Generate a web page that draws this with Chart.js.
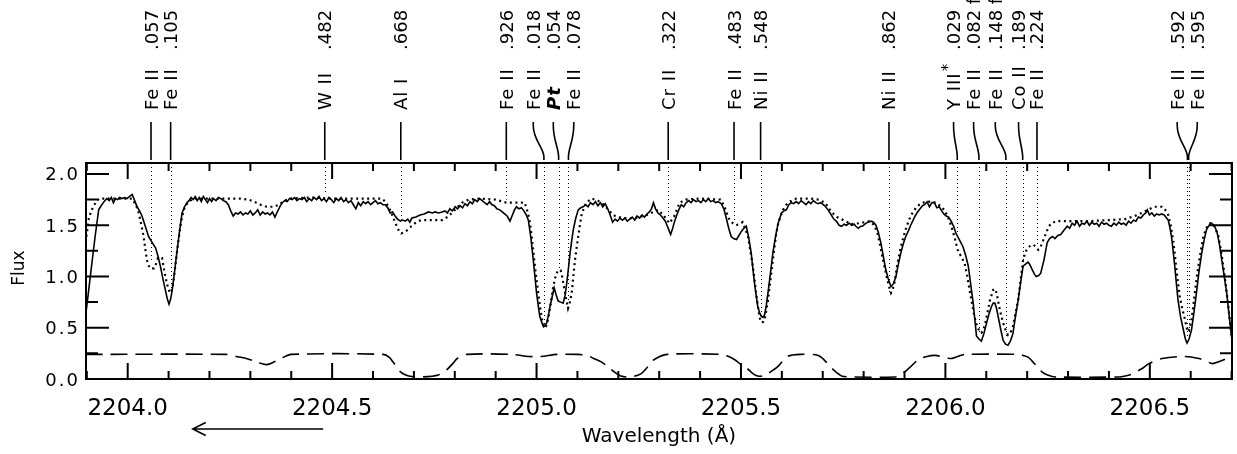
<!DOCTYPE html>
<html>
<head>
<meta charset="utf-8">
<script src="https://cdn.jsdelivr.net/npm/chart.js@4.4.1/dist/chart.umd.min.js"></script>
<style>
  html, body { margin: 0; padding: 0; background: #fff; }
  #wrap { width: 1237px; height: 454px; }
</style>
</head>
<body>
<div id="wrap"><canvas id="chart" width="1237" height="454"></canvas></div>
<script>
// Observed spectrum (solid)
const obsWave = [2203.899,2203.910,2203.920,2203.929,2203.935,2203.942,2203.949,2203.955,2203.960,2203.965,2203.970,2203.975,2203.980,2203.986,2203.992,2203.998,2204.004,2204.011,2204.017,2204.023,2204.029,2204.035,2204.043,2204.051,2204.060,2204.068,2204.074,2204.080,2204.086,2204.092,2204.097,2204.101,2204.105,2204.109,2204.115,2204.121,2204.127,2204.133,2204.139,2204.145,2204.150,2204.155,2204.160,2204.165,2204.170,2204.175,2204.180,2204.185,2204.190,2204.195,2204.200,2204.205,2204.210,2204.216,2204.222,2204.228,2204.234,2204.240,2204.246,2204.252,2204.258,2204.264,2204.270,2204.276,2204.282,2204.288,2204.294,2204.300,2204.306,2204.312,2204.318,2204.324,2204.330,2204.336,2204.342,2204.348,2204.354,2204.360,2204.366,2204.372,2204.378,2204.384,2204.390,2204.396,2204.402,2204.408,2204.414,2204.420,2204.426,2204.432,2204.438,2204.444,2204.450,2204.456,2204.462,2204.468,2204.474,2204.480,2204.486,2204.492,2204.498,2204.504,2204.510,2204.516,2204.522,2204.528,2204.534,2204.540,2204.546,2204.552,2204.558,2204.564,2204.570,2204.576,2204.582,2204.588,2204.594,2204.600,2204.606,2204.612,2204.618,2204.624,2204.630,2204.636,2204.642,2204.648,2204.654,2204.660,2204.667,2204.673,2204.679,2204.685,2204.690,2204.695,2204.705,2204.715,2204.725,2204.736,2204.745,2204.752,2204.760,2204.769,2204.776,2204.782,2204.788,2204.794,2204.801,2204.807,2204.813,2204.819,2204.825,2204.831,2204.837,2204.843,2204.849,2204.855,2204.861,2204.867,2204.873,2204.879,2204.885,2204.891,2204.897,2204.903,2204.910,2204.916,2204.922,2204.928,2204.935,2204.940,2204.946,2204.951,2204.957,2204.963,2204.969,2204.975,2204.980,2204.986,2204.992,2204.996,2205.000,2205.004,2205.008,2205.013,2205.017,2205.021,2205.025,2205.029,2205.033,2205.038,2205.043,2205.048,2205.053,2205.059,2205.065,2205.070,2205.074,2205.078,2205.082,2205.086,2205.090,2205.096,2205.102,2205.108,2205.114,2205.120,2205.126,2205.132,2205.138,2205.144,2205.150,2205.156,2205.162,2205.168,2205.174,2205.180,2205.186,2205.192,2205.198,2205.204,2205.210,2205.216,2205.222,2205.228,2205.234,2205.240,2205.246,2205.252,2205.258,2205.264,2205.270,2205.276,2205.281,2205.286,2205.291,2205.297,2205.303,2205.309,2205.315,2205.320,2205.325,2205.328,2205.333,2205.337,2205.343,2205.349,2205.354,2205.360,2205.366,2205.372,2205.378,2205.384,2205.390,2205.396,2205.402,2205.408,2205.414,2205.420,2205.426,2205.432,2205.438,2205.444,2205.452,2205.458,2205.464,2205.470,2205.476,2205.482,2205.489,2205.495,2205.501,2205.507,2205.513,2205.519,2205.525,2205.529,2205.533,2205.537,2205.541,2205.546,2205.550,2205.554,2205.558,2205.562,2205.566,2205.572,2205.578,2205.585,2205.591,2205.599,2205.605,2205.611,2205.617,2205.623,2205.629,2205.635,2205.641,2205.647,2205.653,2205.659,2205.665,2205.671,2205.677,2205.683,2205.689,2205.695,2205.705,2205.713,2205.721,2205.727,2205.733,2205.740,2205.746,2205.752,2205.758,2205.765,2205.771,2205.777,2205.781,2205.787,2205.793,2205.797,2205.803,2205.810,2205.818,2205.824,2205.830,2205.836,2205.842,2205.848,2205.854,2205.860,2205.867,2205.873,2205.879,2205.885,2205.891,2205.897,2205.903,2205.910,2205.915,2205.920,2205.926,2205.932,2205.938,2205.944,2205.949,2205.955,2205.961,2205.967,2205.973,2205.979,2205.985,2205.991,2205.996,2206.002,2206.008,2206.014,2206.020,2206.026,2206.034,2206.043,2206.050,2206.056,2206.062,2206.068,2206.072,2206.076,2206.082,2206.088,2206.094,2206.101,2206.107,2206.113,2206.117,2206.121,2206.125,2206.129,2206.135,2206.141,2206.147,2206.153,2206.159,2206.165,2206.171,2206.178,2206.184,2206.190,2206.196,2206.202,2206.206,2206.212,2206.218,2206.222,2206.228,2206.233,2206.241,2206.249,2206.255,2206.262,2206.268,2206.275,2206.282,2206.290,2206.298,2206.304,2206.310,2206.316,2206.322,2206.328,2206.334,2206.340,2206.346,2206.352,2206.358,2206.364,2206.370,2206.376,2206.382,2206.388,2206.394,2206.400,2206.406,2206.412,2206.418,2206.424,2206.430,2206.436,2206.442,2206.448,2206.454,2206.460,2206.466,2206.472,2206.478,2206.484,2206.490,2206.494,2206.499,2206.505,2206.511,2206.517,2206.523,2206.529,2206.535,2206.541,2206.545,2206.549,2206.553,2206.557,2206.561,2206.565,2206.569,2206.575,2206.582,2206.587,2206.591,2206.596,2206.602,2206.608,2206.614,2206.620,2206.627,2206.633,2206.639,2206.645,2206.651,2206.657,2206.664,2206.670,2206.676,2206.682,2206.688,2206.694,2206.700,2206.706]
const obsFlux = [0.68,1.05,1.38,1.65,1.69,1.73,1.76,1.74,1.77,1.72,1.76,1.75,1.77,1.76,1.77,1.76,1.78,1.80,1.74,1.68,1.64,1.59,1.49,1.39,1.33,1.28,1.20,1.10,0.98,0.87,0.78,0.73,0.78,0.87,1.06,1.26,1.45,1.62,1.68,1.72,1.74,1.77,1.75,1.78,1.74,1.77,1.73,1.78,1.75,1.72,1.76,1.73,1.76,1.74,1.77,1.76,1.74,1.73,1.70,1.64,1.59,1.62,1.61,1.63,1.60,1.62,1.61,1.64,1.60,1.62,1.65,1.60,1.63,1.61,1.62,1.60,1.63,1.58,1.63,1.68,1.72,1.74,1.73,1.76,1.75,1.77,1.74,1.76,1.75,1.77,1.73,1.76,1.74,1.77,1.75,1.78,1.74,1.76,1.73,1.77,1.75,1.72,1.76,1.74,1.77,1.73,1.75,1.72,1.74,1.70,1.66,1.72,1.69,1.73,1.71,1.73,1.70,1.72,1.74,1.71,1.72,1.70,1.70,1.67,1.62,1.63,1.59,1.56,1.54,1.55,1.54,1.56,1.53,1.57,1.58,1.60,1.61,1.63,1.62,1.63,1.62,1.63,1.64,1.62,1.66,1.64,1.68,1.66,1.69,1.67,1.71,1.69,1.73,1.71,1.75,1.73,1.76,1.74,1.72,1.70,1.73,1.70,1.69,1.66,1.65,1.63,1.61,1.59,1.54,1.59,1.65,1.68,1.66,1.67,1.64,1.60,1.55,1.38,1.16,1.00,0.84,0.72,0.61,0.55,0.51,0.52,0.55,0.62,0.71,0.80,0.89,0.82,0.76,0.75,0.74,0.82,0.94,1.08,1.23,1.35,1.46,1.57,1.65,1.67,1.68,1.70,1.68,1.72,1.70,1.73,1.69,1.72,1.68,1.71,1.66,1.60,1.53,1.56,1.54,1.57,1.55,1.57,1.54,1.56,1.58,1.55,1.59,1.57,1.60,1.58,1.61,1.63,1.66,1.72,1.66,1.62,1.60,1.57,1.54,1.49,1.44,1.41,1.47,1.53,1.60,1.66,1.70,1.68,1.72,1.74,1.72,1.75,1.73,1.74,1.72,1.75,1.73,1.76,1.73,1.74,1.72,1.73,1.71,1.66,1.57,1.47,1.39,1.37,1.36,1.40,1.44,1.47,1.49,1.38,1.23,1.08,0.94,0.82,0.71,0.64,0.61,0.60,0.63,0.72,0.84,1.03,1.23,1.40,1.52,1.62,1.64,1.65,1.70,1.72,1.71,1.73,1.71,1.74,1.72,1.70,1.73,1.71,1.74,1.72,1.71,1.72,1.69,1.65,1.60,1.56,1.54,1.50,1.49,1.51,1.50,1.52,1.50,1.51,1.49,1.47,1.49,1.49,1.51,1.53,1.54,1.53,1.50,1.43,1.33,1.20,1.07,0.98,0.90,0.93,1.00,1.12,1.23,1.32,1.39,1.45,1.50,1.54,1.59,1.63,1.66,1.69,1.70,1.73,1.68,1.72,1.72,1.67,1.68,1.64,1.61,1.59,1.58,1.54,1.49,1.42,1.36,1.29,1.20,1.10,0.92,0.74,0.58,0.42,0.39,0.37,0.44,0.55,0.64,0.71,0.74,0.74,0.69,0.61,0.49,0.38,0.34,0.33,0.37,0.44,0.60,0.77,0.94,1.10,1.12,1.14,1.12,1.07,1.02,1.00,1.01,1.03,1.16,1.33,1.37,1.39,1.37,1.40,1.41,1.45,1.49,1.47,1.52,1.50,1.54,1.49,1.52,1.51,1.54,1.50,1.53,1.51,1.52,1.49,1.53,1.51,1.52,1.50,1.49,1.52,1.50,1.53,1.51,1.52,1.50,1.54,1.52,1.55,1.54,1.58,1.57,1.60,1.62,1.65,1.60,1.62,1.59,1.61,1.60,1.61,1.60,1.57,1.55,1.48,1.39,1.25,1.10,0.93,0.77,0.61,0.48,0.39,0.35,0.39,0.48,0.65,0.84,1.04,1.23,1.36,1.46,1.50,1.52,1.50,1.44,1.32,1.16,1.00,0.84,0.62,0.41,0.30]

// Synthetic spectrum (dotted)
const modelWave = [2203.899,2203.905,2203.912,2203.920,2203.930,2203.950,2203.970,2203.990,2204.010,2204.020,2204.027,2204.033,2204.039,2204.043,2204.047,2204.051,2204.054,2204.064,2204.069,2204.074,2204.084,2204.088,2204.092,2204.098,2204.103,2204.107,2204.111,2204.115,2204.119,2204.124,2204.129,2204.133,2204.137,2204.143,2204.150,2204.160,2204.200,2204.240,2204.276,2204.295,2204.309,2204.325,2204.340,2204.358,2204.370,2204.380,2204.395,2204.450,2204.500,2204.560,2204.622,2204.630,2204.638,2204.645,2204.652,2204.658,2204.664,2204.669,2204.676,2204.683,2204.691,2204.699,2204.710,2204.719,2204.740,2204.769,2204.782,2204.793,2204.805,2204.818,2204.834,2204.860,2204.900,2204.926,2204.950,2204.971,2204.979,2204.984,2204.988,2204.992,2204.996,2205.000,2205.004,2205.008,2205.012,2205.016,2205.020,2205.024,2205.028,2205.032,2205.036,2205.040,2205.045,2205.049,2205.053,2205.059,2205.063,2205.067,2205.072,2205.077,2205.081,2205.086,2205.090,2205.094,2205.098,2205.102,2205.106,2205.110,2205.116,2205.122,2205.135,2205.150,2205.165,2205.176,2205.185,2205.192,2205.210,2205.240,2205.270,2205.286,2205.297,2205.310,2205.325,2205.337,2205.350,2205.365,2205.400,2205.450,2205.460,2205.466,2205.472,2205.480,2205.488,2205.496,2205.504,2205.510,2205.517,2205.523,2205.529,2205.533,2205.537,2205.541,2205.545,2205.548,2205.551,2205.555,2205.558,2205.562,2205.566,2205.570,2205.574,2205.578,2205.582,2205.586,2205.591,2205.597,2205.603,2205.611,2205.619,2205.635,2205.670,2205.690,2205.705,2205.713,2205.721,2205.735,2205.750,2205.770,2205.790,2205.815,2205.826,2205.834,2205.840,2205.846,2205.852,2205.858,2205.863,2205.867,2205.871,2205.875,2205.879,2205.883,2205.887,2205.891,2205.897,2205.903,2205.909,2205.915,2205.921,2205.928,2205.936,2205.944,2205.960,2205.977,2205.987,2205.997,2206.004,2206.010,2206.016,2206.022,2206.030,2206.039,2206.047,2206.053,2206.059,2206.065,2206.071,2206.077,2206.084,2206.088,2206.092,2206.097,2206.101,2206.105,2206.109,2206.113,2206.117,2206.121,2206.125,2206.129,2206.133,2206.137,2206.141,2206.147,2206.153,2206.159,2206.165,2206.171,2206.178,2206.184,2206.190,2206.196,2206.202,2206.208,2206.215,2206.221,2206.227,2206.233,2206.239,2206.245,2206.251,2206.257,2206.270,2206.300,2206.350,2206.400,2206.440,2206.470,2206.490,2206.511,2206.530,2206.540,2206.545,2206.551,2206.557,2206.561,2206.565,2206.569,2206.573,2206.579,2206.586,2206.590,2206.594,2206.598,2206.602,2206.606,2206.610,2206.615,2206.621,2206.626,2206.631,2206.637,2206.643,2206.649,2206.655,2206.661,2206.668,2206.674,2206.680,2206.686,2206.692,2206.700,2206.706]
const modelFlux = [1.39,1.57,1.65,1.71,1.76,1.76,1.76,1.76,1.76,1.70,1.62,1.51,1.39,1.27,1.16,1.11,1.08,1.08,1.12,1.18,1.18,1.09,1.00,0.90,0.84,0.86,0.93,1.05,1.19,1.35,1.49,1.58,1.65,1.70,1.73,1.76,1.76,1.76,1.76,1.75,1.73,1.70,1.68,1.68,1.70,1.73,1.76,1.77,1.76,1.76,1.76,1.73,1.68,1.62,1.55,1.49,1.44,1.42,1.43,1.45,1.48,1.51,1.54,1.55,1.55,1.55,1.58,1.62,1.67,1.72,1.75,1.76,1.75,1.72,1.72,1.72,1.62,1.52,1.39,1.25,1.10,0.97,0.84,0.72,0.61,0.54,0.50,0.52,0.58,0.67,0.77,0.88,0.98,1.03,1.06,1.06,0.99,0.90,0.79,0.69,0.74,0.84,1.00,1.16,1.28,1.39,1.50,1.60,1.67,1.72,1.76,1.74,1.70,1.65,1.61,1.59,1.57,1.57,1.60,1.63,1.65,1.60,1.52,1.59,1.72,1.75,1.76,1.75,1.68,1.61,1.55,1.52,1.50,1.51,1.53,1.47,1.39,1.25,1.10,0.97,0.84,0.72,0.61,0.57,0.55,0.56,0.58,0.67,0.77,0.90,1.03,1.16,1.29,1.41,1.52,1.59,1.65,1.70,1.73,1.76,1.76,1.75,1.72,1.68,1.63,1.58,1.55,1.51,1.52,1.54,1.50,1.42,1.31,1.19,1.08,0.97,0.89,0.84,0.87,0.93,1.03,1.13,1.21,1.29,1.38,1.46,1.53,1.59,1.63,1.67,1.70,1.72,1.73,1.72,1.69,1.65,1.60,1.54,1.47,1.39,1.26,1.19,1.13,1.01,0.87,0.74,0.61,0.52,0.46,0.45,0.47,0.53,0.61,0.69,0.77,0.82,0.87,0.88,0.84,0.76,0.68,0.61,0.55,0.48,0.43,0.45,0.51,0.63,0.77,0.97,1.16,1.24,1.28,1.30,1.31,1.29,1.26,1.29,1.35,1.41,1.47,1.51,1.54,1.54,1.54,1.55,1.56,1.60,1.64,1.68,1.68,1.64,1.60,1.50,1.36,1.22,1.07,0.94,0.81,0.69,0.58,0.50,0.46,0.50,0.58,0.70,0.84,1.00,1.16,1.28,1.39,1.46,1.51,1.52,1.51,1.46,1.39,1.25,1.10,0.91,0.71,0.41,0.28]

// Lower dashed curve
const maskWave = [2203.897,2204.240,2204.265,2204.290,2204.320,2204.340,2204.360,2204.375,2204.400,2204.625,2204.640,2204.650,2204.660,2204.667,2204.680,2204.695,2204.720,2204.760,2204.780,2204.795,2204.806,2204.830,2204.940,2204.980,2205.010,2205.050,2205.100,2205.124,2205.140,2205.157,2205.175,2205.190,2205.206,2205.230,2205.255,2205.270,2205.288,2205.320,2205.451,2205.470,2205.484,2205.500,2205.516,2205.530,2205.541,2205.555,2205.565,2205.590,2205.614,2205.647,2205.689,2205.705,2205.721,2205.735,2205.746,2205.770,2205.877,2205.890,2205.901,2205.915,2205.934,2205.955,2205.975,2206.000,2206.015,2206.030,2206.048,2206.179,2206.190,2206.203,2206.220,2206.236,2206.250,2206.269,2206.424,2206.440,2206.457,2206.480,2206.498,2206.530,2206.587,2206.620,2206.640,2206.653,2206.670,2206.688,2206.706]
const maskFlux = [0.24,0.24,0.22,0.20,0.16,0.14,0.17,0.20,0.24,0.24,0.21,0.16,0.11,0.07,0.04,0.025,0.02,0.04,0.09,0.15,0.20,0.24,0.24,0.22,0.22,0.24,0.24,0.23,0.20,0.17,0.12,0.07,0.03,0.02,0.05,0.11,0.19,0.24,0.24,0.22,0.19,0.14,0.10,0.05,0.03,0.03,0.05,0.12,0.22,0.24,0.23,0.18,0.11,0.06,0.03,0.02,0.02,0.04,0.07,0.12,0.19,0.22,0.23,0.21,0.20,0.22,0.24,0.24,0.23,0.21,0.14,0.07,0.04,0.02,0.02,0.03,0.05,0.10,0.15,0.20,0.22,0.20,0.17,0.15,0.17,0.20,0.23]

// Line identifications
const lineWave  = [2204.057,2204.105,2204.482,2204.668,2204.926,2205.018,2205.054,2205.078,2205.322,2205.483,2205.548,2205.862,2206.029,2206.082,2206.148,2206.189,2206.224,2206.592,2206.595]
const labelWave = [2204.057,2204.105,2204.482,2204.668,2204.926,2204.992,2205.041,2205.091,2205.322,2205.483,2205.548,2205.862,2206.020,2206.069,2206.122,2206.179,2206.224,2206.567,2206.616]
const lineIon   = ["Fe II","Fe II","W II","Al I","Fe II","Fe II","Pt","Fe II","Cr II","Fe II","Ni II","Ni II","Y III*","Fe II","Fe II","Co II","Fe II","Fe II","Fe II"]
const lineText  = [".057",".105",".482",".668",".926",".018",".054",".078",".322",".483",".548",".862",".029",".082 f",".148 f",".189",".224",".592",".595"]
const lineDepth = [1.16,0.87,1.81,1.54,1.75,0.51,1.07,0.77,1.59,1.54,0.61,0.84,1.42,0.45,0.42,1.16,1.29,0.42,0.42]

// Axes
const xMin = 2203.898, xMax = 2206.701
const yMin = 0, yMax = 2.107
const xMajor = [2204.0, 2204.5, 2205.0, 2205.5, 2206.0, 2206.5]
const xLabels = ["2204.0", "2204.5", "2205.0", "2205.5", "2206.0", "2206.5"]
const yMajor = [0.0, 0.5, 1.0, 1.5, 2.0]
const yLabels = ["0.0", "0.5", "1.0", "1.5", "2.0"]
const xMinorStep = 0.1, yMinorStep = 0.25

const FONT = "'DejaVu Sans', sans-serif"

function pairs(xs, ys) {
  return xs.map((x, i) => ({ x: x, y: ys[i] }))
}

// rotated text, reading bottom to top, starting at (x, y)
function upText(ctx, text, x, y, font) {
  ctx.save()
  ctx.translate(x, y)
  ctx.rotate(-Math.PI / 2)
  ctx.font = font
  ctx.textAlign = "left"
  ctx.textBaseline = "alphabetic"
  ctx.fillText(text, 0, 6.5)
  ctx.restore()
}

const framePlugin = {
  id: "frame",
  beforeDatasetsDraw(chart) {
    const { ctx, chartArea: a, scales: { x, y } } = chart
    ctx.save()
    ctx.beginPath()
    ctx.rect(a.left, a.top, a.right - a.left, a.bottom - a.top)
    ctx.clip()
    ctx.strokeStyle = "#000"
    ctx.lineWidth = 1
    ctx.setLineDash([1, 3])
    lineWave.forEach((w, i) => {
      const px = Math.round(x.getPixelForValue(w)) + 0.5
      ctx.beginPath()
      ctx.moveTo(px, a.top)
      ctx.lineTo(px, y.getPixelForValue(lineDepth[i]))
      ctx.stroke()
    })
    ctx.restore()
  },
  afterDraw(chart) {
    const { ctx, chartArea: a, scales: { x, y } } = chart
    ctx.save()
    ctx.strokeStyle = "#000"
    ctx.fillStyle = "#000"
    ctx.setLineDash([])

    // box
    ctx.lineWidth = 2
    ctx.strokeRect(a.left, a.top, a.right - a.left, a.bottom - a.top)

    // x ticks, top and bottom, pointing inward
    for (let v = Math.ceil(xMin * 10) / 10; v <= xMax + 1e-9; v += xMinorStep) {
      const px = x.getPixelForValue(v)
      const major = xMajor.some(m => Math.abs(m - v) < 1e-6)
      const len = major ? 16 : 8
      ctx.beginPath()
      ctx.moveTo(px, a.bottom); ctx.lineTo(px, a.bottom - len)
      ctx.moveTo(px, a.top); ctx.lineTo(px, a.top + len)
      ctx.stroke()
    }
    // y ticks, left and right
    for (let v = yMin; v <= yMax + 1e-9; v += yMinorStep) {
      const py = y.getPixelForValue(v)
      const major = yMajor.some(m => Math.abs(m - v) < 1e-6)
      const len = major ? 23 : 12
      ctx.beginPath()
      ctx.moveTo(a.left, py); ctx.lineTo(a.left + len, py)
      ctx.moveTo(a.right, py); ctx.lineTo(a.right - len, py)
      ctx.stroke()
    }

    // tick labels
    ctx.font = "23px " + FONT
    ctx.textAlign = "center"
    ctx.textBaseline = "alphabetic"
    xMajor.forEach((v, i) => ctx.fillText(xLabels[i], x.getPixelForValue(v), 415))
    ctx.font = "18px " + FONT
    ctx.letterSpacing = "2px"
    ctx.textAlign = "right"
    yMajor.forEach((v, i) => ctx.fillText(yLabels[i], 80, y.getPixelForValue(v) + 6.5))
    ctx.letterSpacing = "0px"

    // axis titles
    ctx.font = "20px " + FONT
    ctx.textAlign = "center"
    ctx.fillText("Wavelength (\u00c5)", 659, 442)
    ctx.save()
    ctx.translate(24, 268)
    ctx.rotate(-Math.PI / 2)
    ctx.font = "17px " + FONT
    ctx.fillText("Flux", 0, 0)
    ctx.restore()

    // arrow
    const ay = 429
    const ax0 = x.getPixelForValue(2204.478), ax1 = x.getPixelForValue(2204.159)
    ctx.lineWidth = 1.5
    ctx.beginPath()
    ctx.moveTo(ax0, ay); ctx.lineTo(ax1, ay)
    ctx.moveTo(ax1 + 13, ay - 6.5); ctx.lineTo(ax1, ay); ctx.lineTo(ax1 + 13, ay + 6.5)
    ctx.stroke()

    // line markers and labels
    const y0 = 122, y1 = 160
    ctx.lineWidth = 1.6
    lineWave.forEach((w, i) => {
      const xb = x.getPixelForValue(w)
      const xl = x.getPixelForValue(labelWave[i])
      ctx.beginPath()
      if (Math.abs(xl - xb) < 1) {
        ctx.moveTo(xl, y0); ctx.lineTo(xl, y1)
      } else {
        ctx.moveTo(xl, y0)
        ctx.lineTo(xl, y0 + 4)
        ctx.bezierCurveTo(xl, y0 + 18, xb, y1 - 12, xb, y1 - 3)
        ctx.lineTo(xb, y1)
      }
      ctx.stroke()

      let ion = lineIon[i]
      const star = ion.endsWith("*")
      if (star) ion = ion.slice(0, -1)
      const font = (ion === "Pt" ? "italic bold " : "") + "18px " + FONT
      ctx.letterSpacing = "1px"
      upText(ctx, ion, xl, 110, font)
      if (star) {
        ctx.font = font
        const wdt = ctx.measureText(ion).width
        upText(ctx, "*", xl - 7, 110 - wdt - 1, "15px " + FONT)
      }
      ctx.letterSpacing = "0px"
      upText(ctx, lineText[i], xl, 50, "18px " + FONT)
    })
    ctx.restore()
  }
}

new Chart(document.getElementById("chart"), {
  type: "line",
  data: {
    datasets: [
      {
        label: "Observed",
        data: pairs(obsWave, obsFlux),
        borderColor: "#000",
        borderWidth: 1.6,
        pointRadius: 0,
        tension: 0
      },
      {
        label: "Model",
        data: pairs(modelWave, modelFlux),
        borderColor: "#000",
        borderWidth: 2.2,
        borderDash: [2, 3.5],
        pointRadius: 0,
        tension: 0
      },
      {
        label: "Mask",
        data: pairs(maskWave, maskFlux),
        borderColor: "#000",
        borderWidth: 1.6,
        borderDash: [17, 8],
        pointRadius: 0,
        tension: 0.3
      }
    ]
  },
  options: {
    responsive: false,
    animation: false,
    events: [],
    layout: { padding: { left: 86, right: 5, top: 163, bottom: 75 } },
    scales: {
      x: { type: "linear", min: xMin, max: xMax, display: false },
      y: { type: "linear", min: yMin, max: yMax, display: false }
    },
    plugins: {
      legend: { display: false },
      tooltip: { enabled: false }
    }
  },
  plugins: [framePlugin]
})
</script>
</body>
</html>
